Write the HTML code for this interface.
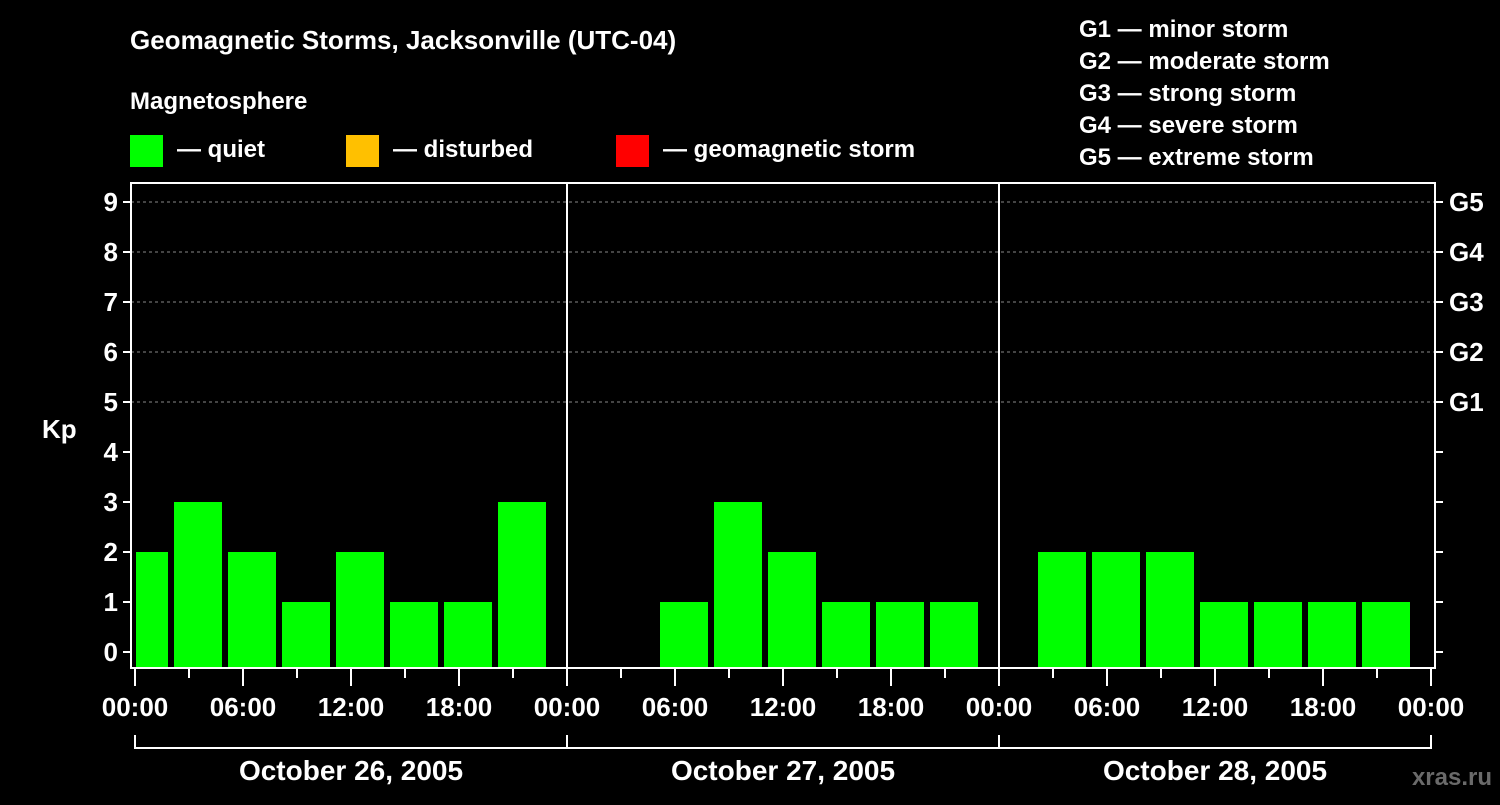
<!DOCTYPE html>
<html><head><meta charset="utf-8"><style>
body{margin:0;background:#000;width:1500px;height:800px;overflow:hidden}
svg text{font-family:"Liberation Sans",Arial,sans-serif;font-weight:bold;fill:#fff}
</style></head><body>
<svg id="c" width="1500" height="800" xmlns="http://www.w3.org/2000/svg">
<text x="130" y="49" font-size="26">Geomagnetic Storms, Jacksonville (UTC-04)</text>
<text x="130" y="109" font-size="24">Magnetosphere</text>
<rect x="130" y="135" width="33" height="32" fill="#00ff00"/>
<text x="177" y="157" font-size="24">— quiet</text>
<rect x="346" y="135" width="33" height="32" fill="#ffc000"/>
<text x="393" y="157" font-size="24">— disturbed</text>
<rect x="616" y="135" width="33" height="32" fill="#ff0000"/>
<text x="663" y="157" font-size="24">— geomagnetic storm</text>
<g font-size="24">
<text x="1079" y="37">G1 — minor storm</text>
<text x="1079" y="69">G2 — moderate storm</text>
<text x="1079" y="101">G3 — strong storm</text>
<text x="1079" y="133">G4 — severe storm</text>
<text x="1079" y="165">G5 — extreme storm</text>
</g>
<text x="42" y="438" font-size="26">Kp</text>
<text x="1492" y="785" font-size="24" text-anchor="end" fill="#666" style="fill:#6a6a6a">xras.ru</text>
<g id="g"></g>
</svg>
<script>
const days = ["October 26, 2005","October 27, 2005","October 28, 2005"];
const kpDay1 = [2,3,2,1,2,1,1,3];
const kpDay2 = [null,null,1,3,2,1,1,1];
const kpDay3 = [null,2,2,2,1,1,1,1];
const yTicks = [0,1,2,3,4,5,6,7,8,9];
const gLabels = ["G1","G2","G3","G4","G5"];
const xTickLabels = ["00:00","06:00","12:00","18:00"];

const NS="http://www.w3.org/2000/svg", g=document.getElementById('g');
const L=131,R=1435,T=183,B=668, x0=135, dayW=432;
const y=v=>652-v*50;
const xh=h=>x0+h*18;
function el(t,a){const e=document.createElementNS(NS,t);for(const k in a)e.setAttribute(k,a[k]);g.appendChild(e);return e;}
// grid
[5,6,7,8,9].forEach(v=>{
 const e=el('line',{x1:L,x2:R,y1:y(v),y2:y(v),stroke:'#888','stroke-dasharray':'3,3','stroke-width':1});
 
 
});
// bars
const cp=el('clipPath',{id:'pc'});const cr=document.createElementNS(NS,'rect');
cr.setAttribute('x',x0+1);cr.setAttribute('y',T);cr.setAttribute('width',R-x0);cr.setAttribute('height',B-T);cp.appendChild(cr);
[kpDay1,kpDay2,kpDay3].forEach((arr,d)=>arr.forEach((v,i)=>{
 if(v==null)return;
 const c=xh(d*24+i*3+0.5);
 const col=v>=5?'#ff0000':(v>=4?'#ffc000':'#00ff00');
 const e=el('rect',{x:c-24,y:y(v),width:48,height:B-y(v),fill:col,'clip-path':'url(#pc)'});
 
 
}));
// day separators
[1,2].forEach(d=>{
 const e=el('line',{x1:x0+d*dayW,x2:x0+d*dayW,y1:T,y2:B,stroke:'#fff','stroke-width':2});
 
 
});
// frame
const fr=el('rect',{x:L,y:T,width:R-L,height:B-T,fill:'none',stroke:'#fff','stroke-width':2});


// y ticks
yTicks.forEach(v=>{
 el('line',{x1:L-8,x2:L,y1:y(v),y2:y(v),stroke:'#fff','stroke-width':2});
 el('line',{x1:R,x2:R+8,y1:y(v),y2:y(v),stroke:'#fff','stroke-width':2});
 const t=el('text',{x:L-13,y:y(v)+9,'font-size':26,'text-anchor':'end'});t.textContent=v;
 
 
});
gLabels.forEach((s,i)=>{
 const t=el('text',{x:R+14,y:y(5+i)+9,'font-size':26});t.textContent=s;
 
 
});
// x ticks
for(let h=0;h<=72;h+=3){
 const major=h%6==0;
 el('line',{x1:xh(h),x2:xh(h),y1:B+1,y2:B+(major?18:10),stroke:'#fff','stroke-width':2});
 if(major){
  const t=el('text',{x:xh(h),y:716,'font-size':26,'text-anchor':'middle'});
  t.textContent=xTickLabels[(h%24)/6];
  
  
 }
}
// day brackets
days.forEach((s,d)=>{
 const a=x0+d*dayW,b=a+dayW;
 el('path',{d:`M${a} 735V748H${b}V735`,fill:'none',stroke:'#fff','stroke-width':2});
 const t=el('text',{x:(a+b)/2,y:780,'font-size':28,'text-anchor':'middle'});t.textContent=s;
 
 
});
</script>
</body></html>
